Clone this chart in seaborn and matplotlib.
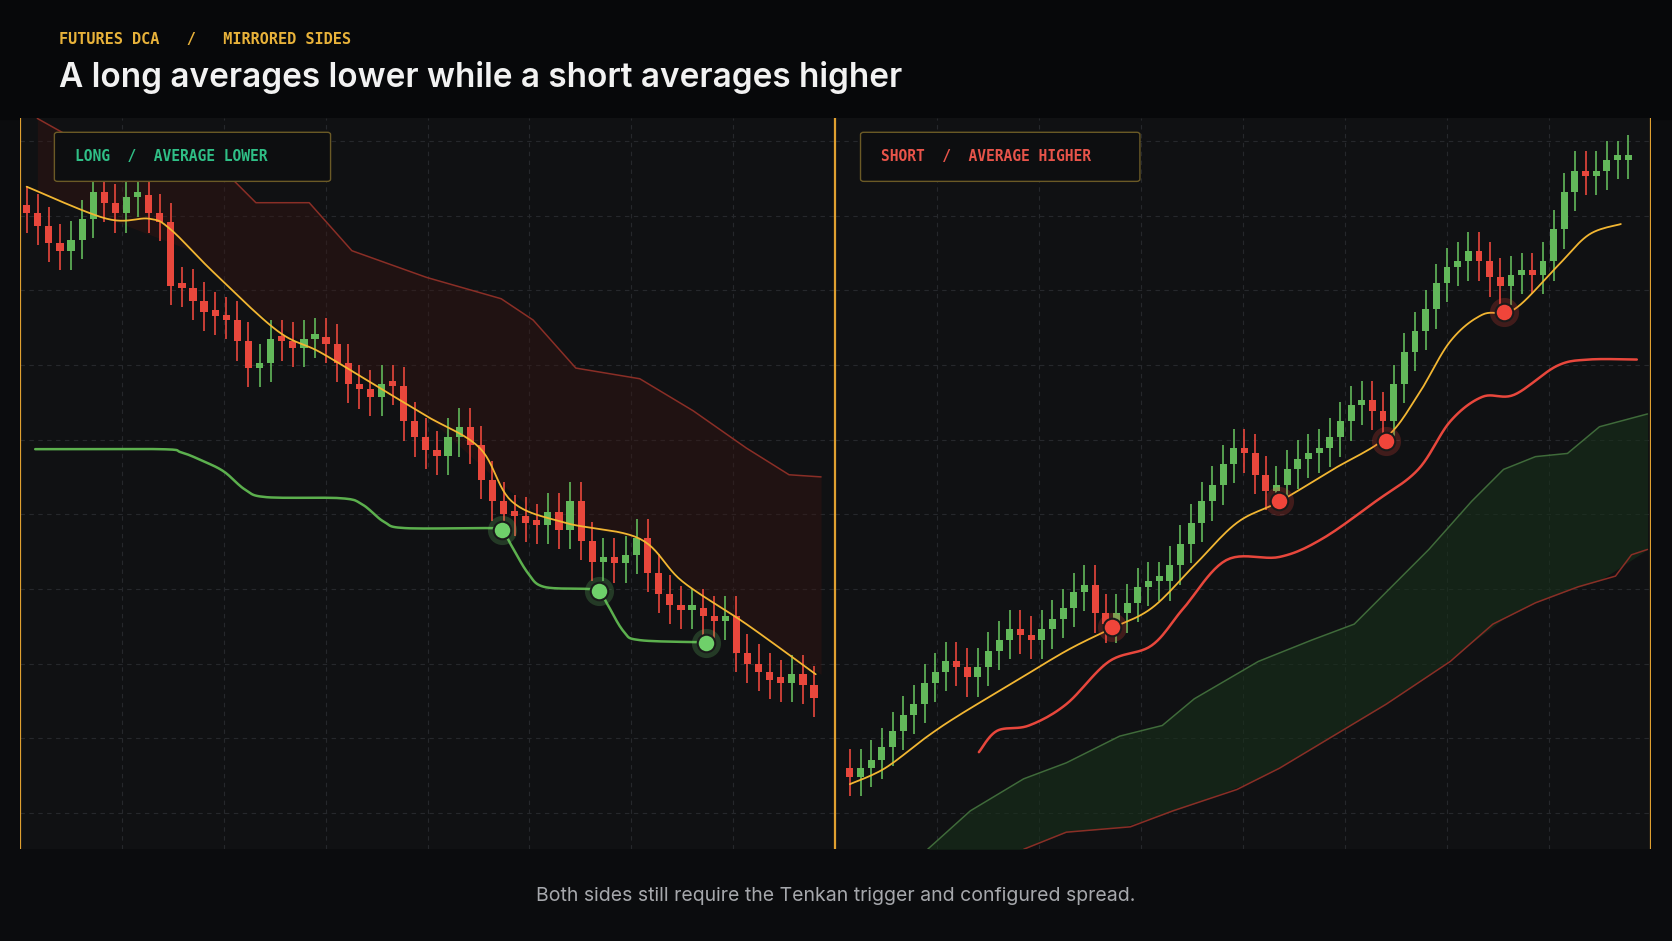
import numpy as np
import matplotlib
matplotlib.use("Agg")
import matplotlib.pyplot as plt
import seaborn as sns
from matplotlib.patches import FancyBboxPatch

sns.set_theme(style="dark")
plt.rcParams['font.family'] = ['Inter', 'DejaVu Sans']

# ---------------- data (price levels) ----------------
# left panel: long side
long_close = [68.2,67.0,65.4,64.7,65.7,67.7,70.2,69.2,68.2,69.7,
              69.9,68.2,67.4,61.4,61.2,60.0,59.0,58.6,58.2,56.2,
              53.7,54.2,56.4,56.2,55.6,56.4,56.6,56.0,54.2,52.2,
              51.7,51.0,52.2,52.0,48.7,47.2,46.0,45.5,47.2,48.2,
              46.5,43.2,41.2,40.0,39.8,39.2,39.0,40.2,38.5,41.2,
              37.5,35.5,36.0,35.4,36.2,37.8,34.5,32.5,31.5,31.0,
              31.2,30.5,30.0,30.5,27.0,26.0,25.2,24.5,24.2,25.0,
              24.0,22.8]
long_tenkan_x = [25,100,140,160,200,260,300,350,400,450,480,530,600,640,700,765]
long_tenkan = [70.7,67.7,67.7,66.7,62.7,57.2,55.2,52.2,49.2,46.2,41.2,39.2,37.7,33.7,29.7,25.0]
long_avg_x = [33,150,170,190,210,230,250,320,340,360,380,460,471,480,495,510,550,562,570,585,600,662]
long_avg = [46.1,46.1,45.8,45.0,44.0,42.3,41.6,41.5,40.9,39.3,38.7,38.7,38.5,37.0,34.5,33.2,33.0,32.8,31.5,29.0,28.2,28.0]
long_fill_x = [471,562,662]
long_fill = [38.5,32.8,27.9]
long_cloud_x = [35,60,180,220,240,290,330,400,470,500,540,600,650,700,740,770]
long_cloud = [77.1,75.7,75.7,71.2,69.2,69.2,64.7,62.2,60.2,58.2,53.7,52.7,49.7,46.2,43.7,43.5]

# right panel: short side
short_close = [15.4,16.2,17.0,18.2,19.7,21.2,22.2,24.2,25.2,26.2,
               25.7,24.7,25.7,27.2,28.2,29.2,28.7,28.2,29.2,30.2,
               31.2,32.7,33.4,30.7,29.7,30.7,31.7,33.2,33.7,33.7,
               35.2,37.2,39.2,41.2,42.7,44.7,46.2,45.7,43.7,42.2,
               42.7,44.2,45.2,45.7,46.2,47.2,48.7,50.2,50.7,49.7,
               48.7,52.2,55.2,57.2,59.2,61.7,63.2,63.7,64.7,63.7,
               62.2,61.4,62.4,62.7,62.4,63.7,66.7,70.2,72.2,71.7,
               72.2,73.2,73.2,73.7]
short_tenkan_x = [797,830,870,900,950,1000,1040,1080,1120,1160,1200,1250,1300,1330,1360,1390,1420,1460,1490,1520]
short_tenkan = [14.7,16.2,19.2,21.2,24.2,27.2,29.2,31.2,35.2,39.2,41.2,44.2,47.2,51.2,56.2,58.7,59.2,63.2,66.2,67.2]
short_avg_x = [918,935,965,1000,1040,1080,1110,1150,1200,1240,1290,1330,1360,1390,1420,1460,1490,1535]
short_avg = [17.7,19.7,20.2,22.2,26.2,27.7,31.2,35.7,36.0,37.7,41.2,44.2,48.7,51.0,51.2,53.9,54.5,54.5]
short_fill_x = [1043,1199,1300,1410]
short_fill = [29.4,41.2,46.9,59.0]
short_cloud_x = [870,910,960,1000,1050,1090,1120,1180,1230,1270,1300,1340,1380,1410,1440,1470,1500,1545]
short_cloud_top = [8.6,12.2,15.2,16.7,19.2,20.2,22.7,26.2,28.2,29.7,32.7,36.7,41.2,44.2,45.4,45.7,48.2,49.4]
short_cloud_bot_x = [960,1000,1060,1100,1160,1200,1250,1300,1360,1400,1440,1480,1515,1530,1545]
short_cloud_bot = [8.6,10.2,10.7,12.2,14.2,16.2,19.2,22.2,26.2,29.7,31.7,33.2,34.2,36.2,36.7]

title = "A long averages lower while a short averages higher"
kicker = "FUTURES DCA   /   MIRRORED SIDES"
caption = "Both sides still require the Tenkan trigger and configured spread."

# ---------------- style ----------------
BG = "#0b0c0e"; PANEL = "#101113"; GRID = "#26282c"
GREEN = "#62b85a"; RED = "#e8473c"; YEL = "#f2b632"; ORANGE = "#e0a030"


def smooth(xs, ys, n=12):
    """Catmull-Rom curve through the given points (drawing only)."""
    p = np.column_stack([xs, ys]).astype(float)
    p = np.vstack([p[0], p, p[-1]])
    out = []
    t = np.linspace(0, 1, n, endpoint=False)[:, None]
    for i in range(1, len(p) - 2):
        p0, p1, p2, p3 = p[i - 1], p[i], p[i + 1], p[i + 2]
        out.append(0.5 * ((2 * p1) + (-p0 + p2) * t + (2 * p0 - 5 * p1 + 4 * p2 - p3) * t ** 2
                          + (-p0 + 3 * p1 - 3 * p2 + p3) * t ** 3))
    out.append(p[-2][None, :])
    o = np.vstack(out)
    return o[:, 0], o[:, 1]


fig = plt.figure(figsize=(16.72, 9.41), dpi=100, facecolor=BG)
fig.patches.append(plt.Rectangle((0, 0.874), 1, 0.126, transform=fig.transFigure,
                                 color="#07080a", zorder=-1))
L, R, M = 19/1568, 1548/1568, 783/1568
B, T = 1 - 796/882, 1 - 111/882
axL = fig.add_axes([L, B, M - L, T - B])
axR = fig.add_axes([M, B, R - M, T - B])
YL = (8.6, 77.1)


def style(ax, xl):
    ax.set_facecolor(PANEL)
    ax.set_xlim(*xl); ax.set_ylim(*YL)
    for v in np.linspace(xl[0], xl[1], 9)[1:-1]:
        ax.axvline(v, color=GRID, lw=0.8, ls=(0, (4, 4)), zorder=0)
    for h in np.arange(12, 77, 7):
        ax.axhline(h, color=GRID, lw=0.8, ls=(0, (4, 4)), zorder=0)
    ax.set_xticks([]); ax.set_yticks([])
    for s in ax.spines.values():
        s.set_visible(False)
    ax.axvline(xl[0], color=ORANGE, lw=1.6, zorder=6)
    ax.axvline(xl[1], color=ORANGE, lw=1.6, zorder=6)


def candles(ax, closes, x0, dx):
    c = np.array(closes)
    o = np.r_[c[0] + 0.8, c[:-1]]
    x = x0 + dx * np.arange(len(c))
    for xi, oi, ci in zip(x, o, c):
        col = GREEN if ci >= oi else RED
        hi = max(oi, ci) + 1.8; lo = min(oi, ci) - 1.8
        ax.vlines(xi, lo, hi, color=col, lw=1.2, zorder=3)
        ax.bar(xi, max(abs(ci - oi), 0.5), bottom=min(oi, ci), width=dx * 0.65,
               color=col, zorder=4, linewidth=0)


def marker(ax, xs, ys, col):
    ax.scatter(xs, ys, s=440, color=col, alpha=0.22, zorder=7, linewidths=0)
    ax.scatter(xs, ys, s=160, color=col, edgecolor="#1a1a1a", linewidth=1.5, zorder=8)


def sline(ax, xs, ys, col, lw):
    sx, sy = smooth(xs, ys)
    sns.lineplot(x=sx, y=sy, ax=ax, color=col, lw=lw, zorder=5, sort=False)


# left
style(axL, (19, 783))
axL.fill_between(long_cloud_x, long_cloud, np.interp(long_cloud_x, long_tenkan_x, long_tenkan),
                 color="#3a1512", alpha=0.4, lw=0, zorder=1)
axL.plot(long_cloud_x, long_cloud, color="#8a2e26", lw=1.1, zorder=2)
candles(axL, long_close, 25, 10.4)
sline(axL, long_tenkan_x, long_tenkan, YEL, 1.3)
sline(axL, long_avg_x, long_avg, "#5cb04e", 1.8)
marker(axL, long_fill_x, long_fill, "#6fd06a")

# right
style(axR, (783, 1548))
axR.fill_between(short_cloud_x, short_cloud_top,
                 np.interp(short_cloud_x, short_cloud_bot_x, short_cloud_bot, left=8.6),
                 color="#17301a", alpha=0.6, lw=0, zorder=1)
axR.plot(short_cloud_x, short_cloud_top, color="#3f6b3a", lw=1.1, zorder=2)
axR.plot(short_cloud_bot_x, short_cloud_bot, color="#8a2e26", lw=1.1, zorder=2)
candles(axR, short_close, 797, 10.0)
sline(axR, short_tenkan_x, short_tenkan, YEL, 1.3)
sline(axR, short_avg_x, short_avg, RED, 1.8)
marker(axR, short_fill_x, short_fill, "#f0453a")

# panel labels
def label(ax, x0, x1, text, col):
    box = FancyBboxPatch((x0, 71.2), x1 - x0, 4.6, boxstyle="round,pad=0,rounding_size=3",
                         fc="#0d0e10", ec="#6b5a26", lw=1.0, zorder=9, mutation_aspect=0.07)
    ax.add_patch(box)
    ax.text(x0 + 19, 73.5, text, color=col, fontsize=10.5, family="DejaVu Sans Mono",
            fontweight="bold", va="center", zorder=10)

label(axL, 51, 310, "LONG  /  AVERAGE LOWER", "#2fbf86")
label(axR, 807, 1069, "SHORT  /  AVERAGE HIGHER", "#e8544a")

fig.text(55/1568, 1 - 37/882, kicker, color="#e8b23a", fontsize=11, family="DejaVu Sans Mono",
         fontweight="bold", va="center")
fig.text(55/1568, 1 - 73/882, title, color="#f2f2f2", fontsize=24, fontweight="semibold", va="center")
fig.text(0.5, 1 - 840/882, caption, color="#a6a8ac", fontsize=14, ha="center", va="center")

fig.savefig("out.png", dpi=100, facecolor=BG)
